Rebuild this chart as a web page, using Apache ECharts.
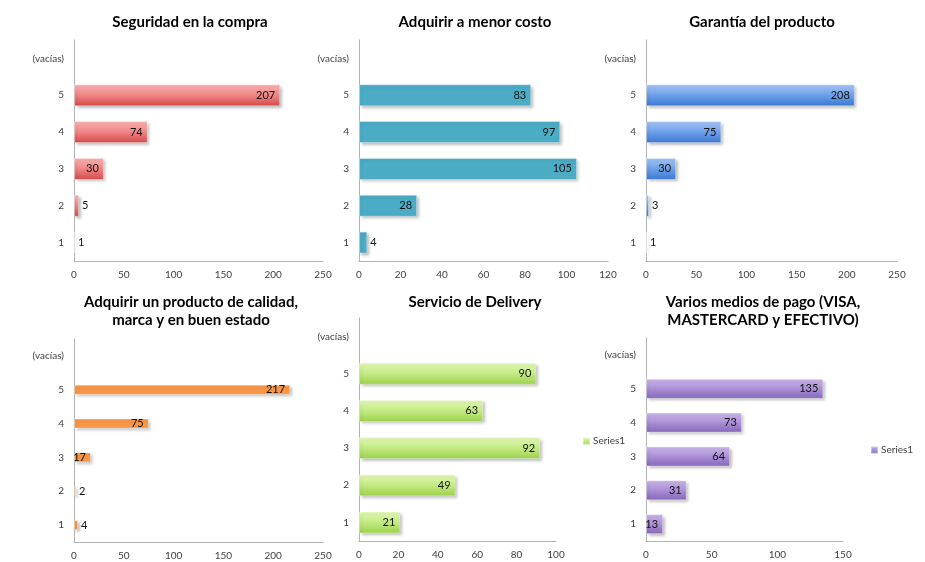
<!DOCTYPE html>
<html>
<head>
<meta charset="utf-8">
<script src="https://cdn.jsdelivr.net/npm/echarts@6/dist/echarts.min.js"></script>
<style>
  html, body { margin: 0; padding: 0; background: #ffffff; }
  #chart { width: 925px; height: 562px; }
</style>
</head>
<body>
<div id="chart"></div>
<script>
// Rating categories, bottom to top
const categories = ['1', '2', '3', '4', '5', '(vacías)'];

// Counts per rating for each survey question (null = empty row)
const seguridad = [1, 5, 30, 74, 207, null];
const menorCosto = [4, 28, 105, 97, 83, null];
const garantia = [1, 3, 30, 75, 208, null];
const calidad = [4, 2, 17, 75, 217, null];
const delivery = [21, 49, 92, 63, 90, null];
const mediosPago = [13, 31, 64, 73, 135, null];

const titles = [
  'Seguridad en la compra',
  'Adquirir a menor costo',
  'Garantía del producto',
  'Adquirir un producto de calidad,\nmarca y en buen estado',
  'Servicio de Delivery',
  'Varios medios de pago (VISA,\nMASTERCARD y EFECTIVO)'
];

const legendText = 'Series1';

const FONT = 'Lato, "Open Sans", sans-serif';

function vGrad(top, mid, bottom) {
  return new echarts.graphic.LinearGradient(0, 0, 0, 1, [
    { offset: 0, color: top },
    { offset: 0.5, color: mid },
    { offset: 1, color: bottom }
  ]);
}

const panels = [
  { data: seguridad, name: 'seguridad', max: 250, interval: 50,
    grid: { left: 74, top: 40, width: 249, height: 221 }, title: [185, 8],
    color: vGrad('#fcb4b4', '#ef8585', '#d44848'), barWidth: 22 },
  { data: menorCosto, name: 'menorCosto', max: 120, interval: 20,
    grid: { left: 359, top: 40, width: 249, height: 221 }, title: [470, 8],
    color: '#4bacc6', barWidth: 22 },
  { data: garantia, name: 'garantia', max: 250, interval: 50,
    grid: { left: 646, top: 40, width: 251, height: 221 }, title: [757, 8],
    color: vGrad('#a7c8f8', '#6d9fe8', '#3a78d2'), barWidth: 22 },
  { data: calidad, name: 'calidad', max: 250, interval: 50,
    grid: { left: 74, top: 339, width: 249, height: 203 }, title: [186, 288],
    color: '#f79646', barWidth: 10 },
  { data: delivery, name: 'delivery', max: 100, interval: 20,
    grid: { left: 359, top: 318, width: 197, height: 223 }, title: [470, 288],
    color: vGrad('#e4f9b8', '#c3ea82', '#9bd14b'), barWidth: 22 },
  { data: mediosPago, name: 'mediosPago', max: 150, interval: 50,
    grid: { left: 646, top: 338, width: 197, height: 203 }, title: [758, 288],
    color: vGrad('#cdb8ec', '#ab8fd6', '#8466b8'), barWidth: 20 }
];

const option = {
  animation: false,
  backgroundColor: '#ffffff',
  textStyle: { fontFamily: FONT },
  title: panels.map((p, i) => ({
    text: titles[i],
    left: p.title[0],
    top: p.title[1],
    textAlign: 'center',
    textStyle: { fontFamily: FONT, fontSize: 15, fontWeight: 'bold', color: '#000000', lineHeight: 18 }
  })),
  legend: [
    { data: ['delivery'], left: 577, top: 431, itemWidth: 7, itemHeight: 7, itemGap: 4,
      formatter: () => legendText, icon: 'rect',
      textStyle: { fontFamily: FONT, fontSize: 10, color: '#404040', padding: [0, 0, 0, -2] } },
    { data: ['mediosPago'], left: 865, top: 440, itemWidth: 7, itemHeight: 7, itemGap: 4,
      formatter: () => legendText, icon: 'rect',
      textStyle: { fontFamily: FONT, fontSize: 10, color: '#404040', padding: [0, 0, 0, -2] } }
  ],
  grid: panels.map(p => Object.assign({ containLabel: false }, p.grid)),
  xAxis: panels.map((p, i) => ({
    type: 'value', gridIndex: i, min: 0, max: p.max, interval: p.interval,
    axisLine: { show: true, lineStyle: { color: '#b3b3b3', width: 1 } },
    axisTick: { show: false },
    splitLine: { show: false },
    axisLabel: { fontFamily: FONT, fontSize: 10, color: '#404040', margin: 9 }
  })),
  yAxis: panels.map((p, i) => ({
    type: 'category', gridIndex: i, data: categories,
    axisLine: { show: true, lineStyle: { color: '#b3b3b3', width: 1 } },
    axisTick: { show: false },
    axisLabel: { fontFamily: FONT, fontSize: 10, color: '#404040', margin: 10 }
  })),
  series: panels.map((p, i) => {
    const plotW = p.grid.width;
    return {
      type: 'bar', name: p.name, xAxisIndex: i, yAxisIndex: i,
      barWidth: p.barWidth,
      data: p.data.map(v => {
        if (v === null) return { value: null };
        const px = v / p.max * plotW;
        return {
          value: v,
          label: { position: px < 12 ? 'right' : 'insideRight', distance: px < 12 ? 3 : 5 }
        };
      }),
      itemStyle: {
        color: p.color,
        borderColor: 'rgba(255,255,255,0.35)', borderWidth: 1,
        shadowColor: 'rgba(0,0,0,0.28)', shadowBlur: 3, shadowOffsetX: 2, shadowOffsetY: 2
      },
      label: {
        show: true, fontFamily: FONT, fontSize: 11, color: '#111111'
      }
    };
  })
};

const chart = echarts.init(document.getElementById('chart'), null, { renderer: 'canvas' });
chart.setOption(option);
</script>
</body>
</html>
